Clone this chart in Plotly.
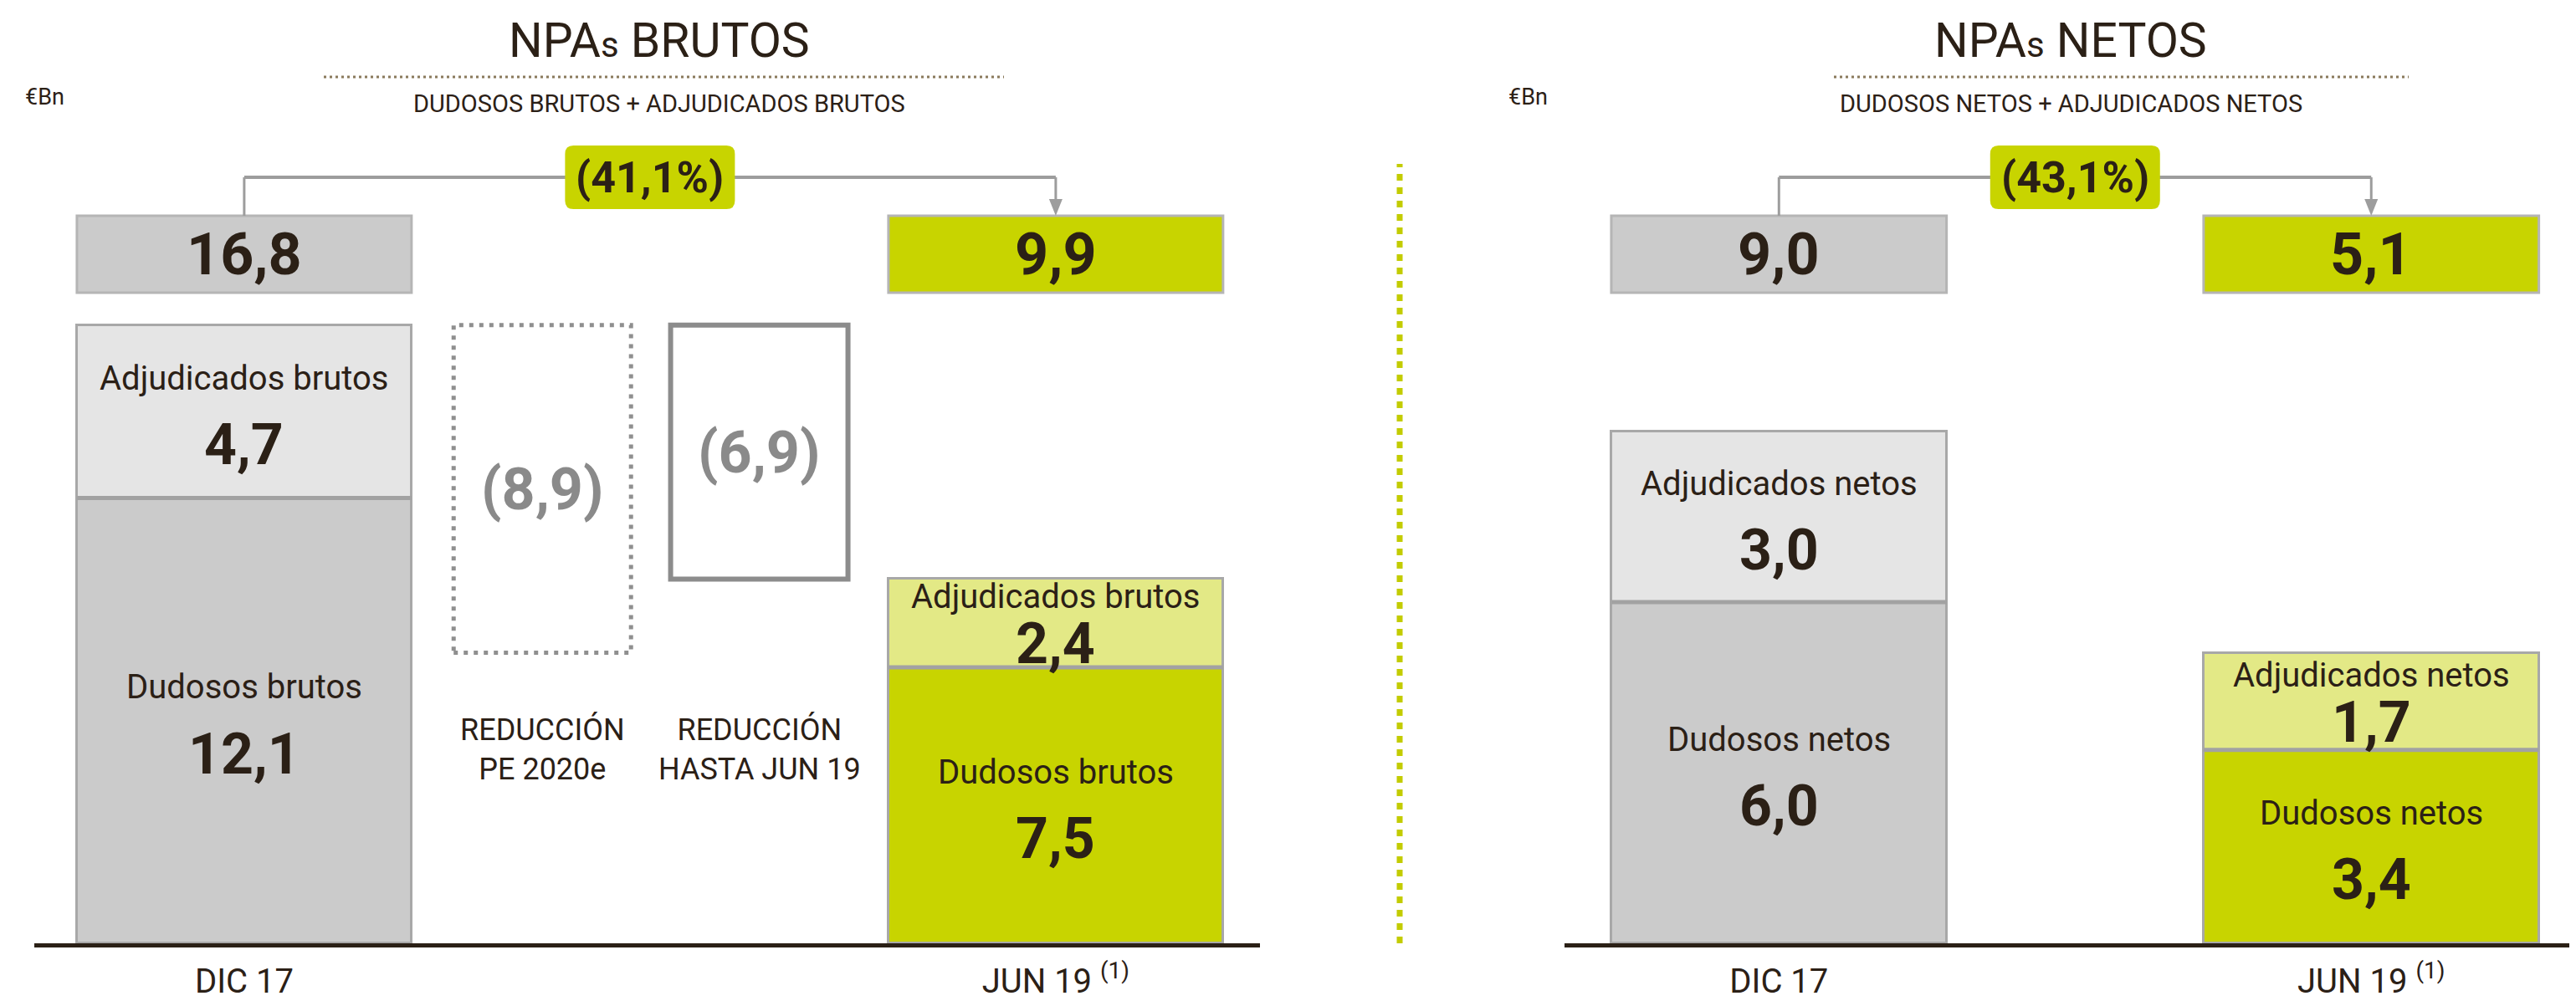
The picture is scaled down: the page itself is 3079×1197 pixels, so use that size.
import plotly.graph_objects as go

# ---------------- data ----------------
periodos = ["DIC 17", "JUN 19"]
periodos_ticks = ["DIC 17", "JUN 19 <sup>(1)</sup>"]
brutos_dudosos = [12.1, 7.5]
brutos_adjudicados = [4.7, 2.4]
brutos_total = [16.8, 9.9]
netos_dudosos = [6.0, 3.4]
netos_adjudicados = [3.0, 1.7]
netos_total = [9.0, 5.1]
reduccion_cats = ["REDUCCIÓN PE 2020e", "REDUCCIÓN HASTA JUN 19"]
reduccion_labels = ["REDUCCIÓN<br>PE 2020e", "REDUCCIÓN<br>HASTA JUN 19"]
reduccion_valores = [8.9, 6.9]
variacion_brutos = -41.1
variacion_netos = -43.1
seg_labels_brutos = ["Dudosos brutos", "Adjudicados brutos"]
seg_labels_netos = ["Dudosos netos", "Adjudicados netos"]

# ---------------- style ----------------
W, H = 3079, 1197
FONT = "Roboto"
TXT = "#2b2016"
GRAY, LGRAY = "#cbcbcb", "#e5e5e5"
GREEN, LGREEN = "#c8d400", "#e3e986"
EDGE = "#a8a8a8"
CONN = "#9d9d9d"
PX_L = 44.0   # px per unit, left panel
PX_R = 68.0   # px per unit, right panel
BASE_PX = 1120
BW_L = 1.237
BW_R = 0.566
RED_W_PX = 212
RED_SHIFT = [33, -31]   # horizontal nudge of the reduction columns (px)


def yp(px):
    return 1 - px / H


def fmt(v):
    return f"{v:.1f}".replace(".", ",")


def pct(v):
    return "(" + f"{abs(v):.1f}".replace(".", ",") + "%)"


def rounded(w, h, r):
    a, b = w / 2, h / 2
    return (f"M {-a + r},{-b} L {a - r},{-b} Q {a},{-b} {a},{-b + r} "
            f"L {a},{b - r} Q {a},{b} {a - r},{b} L {-a + r},{b} "
            f"Q {-a},{b} {-a},{b - r} L {-a},{-b + r} Q {-a},{-b} {-a + r},{-b} Z")


def A(**kw):
    d = dict(showarrow=False, xanchor="center", yanchor="middle")
    d.update(kw)
    return d


left_cats = [periodos[0]] + reduccion_cats + [periodos[1]]

fig = go.Figure()

# stacked bars
for xa, ya, dud, adj, bw in [("x", "y", brutos_dudosos, brutos_adjudicados, BW_L),
                             ("x2", "y2", netos_dudosos, netos_adjudicados, BW_R)]:
    fig.add_trace(go.Bar(x=periodos, y=dud, width=bw, xaxis=xa, yaxis=ya,
                         marker=dict(color=[GRAY, GREEN], line=dict(color=EDGE, width=3)),
                         hoverinfo="skip", showlegend=False))
    fig.add_trace(go.Bar(x=periodos, y=adj, width=bw, xaxis=xa, yaxis=ya,
                         marker=dict(color=[LGRAY, LGREEN], line=dict(color=EDGE, width=3)),
                         hoverinfo="skip", showlegend=False))

shapes = []
ann = []


# segment labels and junction lines
def seg_text(xref, yref, xs, dud, adj, labels, pxu, bw):
    for i, x in enumerate(xs):
        for base, v, lab in [(0, dud[i], labels[0]), (dud[i], adj[i], labels[1])]:
            mid = base + v / 2
            if v * pxu > 180:
                du, dd = 40, 40
            else:
                du, dd = 32, 25
            ann.append(A(xref=xref, yref=yref, x=x, y=mid, yshift=du, text=lab,
                         font=dict(family=FONT, size=40, color=TXT)))
            ann.append(A(xref=xref, yref=yref, x=x, y=mid, yshift=-dd, text=f"<b>{fmt(v)}</b>",
                         font=dict(family=FONT, size=68, color=TXT)))
        shapes.append(dict(type="line", xref=xref, yref=yref, x0=x - bw / 2, x1=x + bw / 2,
                           y0=dud[i], y1=dud[i], line=dict(color="#a2a2a2", width=5)))


left_idx = [left_cats.index(p) for p in periodos]
seg_text("x", "y", left_idx, brutos_dudosos, brutos_adjudicados, seg_labels_brutos, PX_L, BW_L)
seg_text("x2", "y2", [0, 1], netos_dudosos, netos_adjudicados, seg_labels_netos, PX_R, BW_R)

# total boxes, connectors and pills
BOX_TOP, BOX_BOT, CONN_Y = 250, 342, 204
for xref, idx, totals, bw, var in [("x", left_idx, brutos_total, BW_L, variacion_brutos),
                                   ("x2", [0, 1], netos_total, BW_R, variacion_netos)]:
    for k, (i, t) in enumerate(zip(idx, totals)):
        shapes.append(dict(type="rect", xref=xref, yref="paper", x0=i - bw / 2, x1=i + bw / 2,
                           y0=yp(BOX_BOT), y1=yp(BOX_TOP), fillcolor=[GRAY, GREEN][k],
                           line=dict(color="#b5b5b5", width=3), layer="below"))
        ann.append(A(xref=xref, yref="paper", x=i, y=yp((BOX_TOP + BOX_BOT) / 2),
                     text=f"<b>{fmt(t)}</b>", font=dict(family=FONT, size=70, color=TXT)))
    i0, i1 = idx
    shapes.append(dict(type="line", xref=xref, yref="paper", x0=i0, x1=i0,
                       y0=yp(BOX_TOP), y1=yp(CONN_Y), line=dict(color=CONN, width=3)))
    shapes.append(dict(type="line", xref=xref, yref="paper", x0=i0, x1=i1,
                       y0=yp(CONN_Y), y1=yp(CONN_Y), line=dict(color=CONN, width=4)))
    shapes.append(dict(type="line", xref=xref, yref="paper", x0=i1, x1=i1,
                       y0=yp(CONN_Y), y1=yp(BOX_TOP - 18), line=dict(color=CONN, width=3)))
    shapes.append(dict(type="path", xref=xref, yref="paper", xsizemode="pixel", ysizemode="pixel",
                       xanchor=i1, yanchor=yp(BOX_TOP), path="M -8,20 L 8,20 L 0,0 Z",
                       fillcolor=CONN, line=dict(width=0)))
    mid = (i0 + i1) / 2
    shapes.append(dict(type="path", xref=xref, yref="paper", xsizemode="pixel", ysizemode="pixel",
                       xanchor=mid, yanchor=yp(CONN_Y), path=rounded(203, 76, 10),
                       fillcolor=GREEN, line=dict(width=0)))
    ann.append(A(xref=xref, yref="paper", x=mid, y=yp(CONN_Y), text=f"<b>{pct(var)}</b>",
                 font=dict(family=FONT, size=52, color=TXT)))

# reduction boxes
for k, (cat, r, lab) in enumerate(zip(reduccion_cats, reduccion_valores, reduccion_labels)):
    i = left_cats.index(cat)
    top = brutos_total[0]
    sh = RED_SHIFT[k]
    if k == 0:
        line = dict(color="#8f8f8f", width=5, dash="5px,7px")
    else:
        line = dict(color="#8c8c8c", width=6)
    shapes.append(dict(type="rect", xref="x", yref="y", xsizemode="pixel", xanchor=i,
                       x0=sh - RED_W_PX / 2, x1=sh + RED_W_PX / 2,
                       y0=top - r, y1=top, line=line, fillcolor="rgba(0,0,0,0)"))
    ann.append(A(xref="x", yref="y", x=i, xshift=sh, y=top - r / 2, text=f"<b>({fmt(r)})</b>",
                 font=dict(family=FONT, size=70, color="#8a8a8a")))
    ann.append(A(xref="x", yref="paper", x=i, xshift=sh, y=yp(888), text=lab,
                 font=dict(family=FONT, size=36, color=TXT)))

# separator
shapes.append(dict(type="line", xref="paper", yref="paper", x0=1665 / W, x1=1665 / W,
                   y0=yp(1120), y1=yp(188), line=dict(color="#c3cc00", width=7, dash="8px,8px")))

# titles
for cx, title, sub, dl0, dl1, eur in [
        (780, "NPA<span style='font-size:42px'>s</span> BRUTOS",
         "DUDOSOS BRUTOS + ADJUDICADOS BRUTOS", 379, 1192, 20),
        (2467, "NPA<span style='font-size:42px'>s</span> NETOS",
         "DUDOSOS NETOS + ADJUDICADOS NETOS", 2184, 2871, 1793)]:
    ann.append(A(xref="paper", yref="paper", x=cx / W, y=yp(40), text=title,
                 font=dict(family=FONT, size=57, color=TXT)))
    ann.append(A(xref="paper", yref="paper", x=cx / W, y=yp(116), text=sub,
                 font=dict(family=FONT, size=29, color=TXT)))
    ann.append(A(xref="paper", yref="paper", x=eur / W, y=yp(108), text="€Bn", xanchor="left",
                 font=dict(family=FONT, size=27, color=TXT)))
    shapes.append(dict(type="line", xref="paper", yref="paper", x0=dl0 / W, x1=dl1 / W,
                       y0=yp(84), y1=yp(84), line=dict(color="#8a7a5c", width=3, dash="3px,4px")))

axis_common = dict(type="category", showgrid=False, zeroline=False, showline=True,
                   linecolor=TXT, linewidth=5, ticks="", ticklabelstandoff=6,
                   tickfont=dict(family=FONT, size=40, color=TXT), fixedrange=True)
ydom = [1 - BASE_PX / H, 1]

fig.update_layout(
    width=W, height=H, margin=dict(l=0, r=0, t=0, b=0),
    paper_bgcolor="white", plot_bgcolor="white", barmode="stack", bargap=0,
    showlegend=False,
    xaxis=dict(domain=[33 / W, 1498 / W], categoryorder="array", categoryarray=left_cats,
               range=[-0.776, 3.755], tickvals=periodos, ticktext=periodos_ticks,
               anchor="y", **axis_common),
    yaxis=dict(domain=ydom, range=[0, BASE_PX / PX_L], visible=False, anchor="x", fixedrange=True),
    xaxis2=dict(domain=[1862 / W, 1], categoryorder="array", categoryarray=periodos,
                range=[-0.362, 1.357], tickvals=periodos, ticktext=periodos_ticks,
                anchor="y2", **axis_common),
    yaxis2=dict(domain=ydom, range=[0, BASE_PX / PX_R], visible=False, anchor="x2", fixedrange=True),
    shapes=shapes, annotations=ann,
    font=dict(family=FONT, color=TXT),
)

fig.write_html("out.html")
